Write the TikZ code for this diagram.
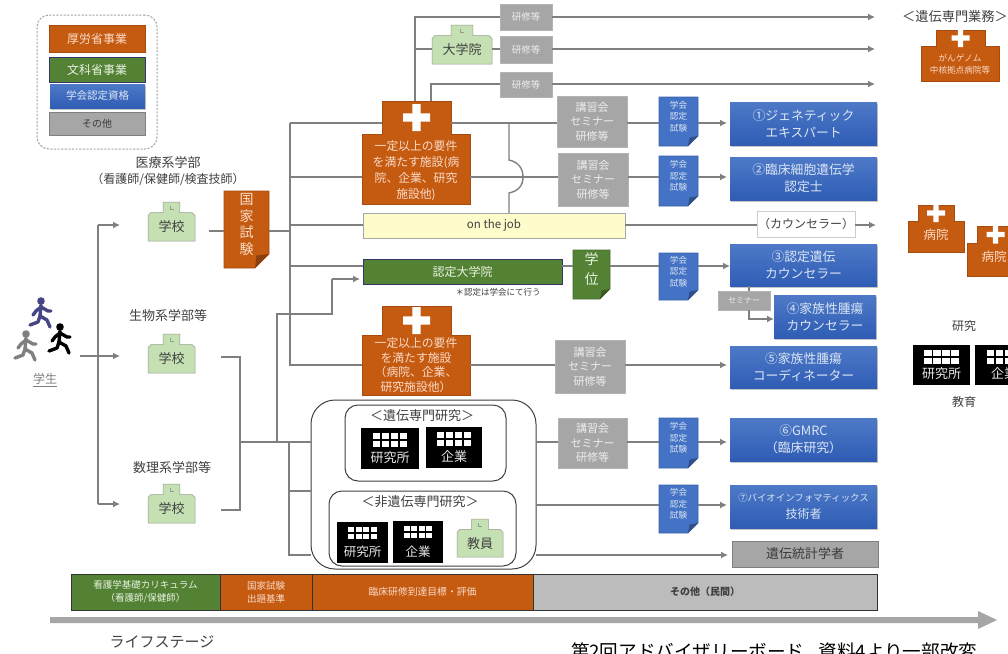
\documentclass[tikz,border=0pt]{standalone}
\usepackage{fontspec}
\setmainfont{Noto Sans CJK JP}
\usetikzlibrary{arrows.meta,shadows,calc}
\definecolor{org}{HTML}{C55A11}
\definecolor{grn}{HTML}{548235}
\definecolor{blu}{HTML}{4472C4}
\definecolor{blud}{HTML}{2F5DB5}
\definecolor{gry}{HTML}{A6A6A6}
\definecolor{lnc}{HTML}{7F7F7F}
\definecolor{palo}{HTML}{FBDCC8}
\definecolor{palb}{HTML}{DCE6F5}
\definecolor{palg}{HTML}{EDEDED}
\definecolor{palv}{HTML}{E8F2E0}
\definecolor{txt}{HTML}{404040}
\definecolor{sch}{HTML}{C5E0B3}
\newcommand\fs[2]{\fontsize{#1}{#2}\selectfont}
\tikzset{
  lnk/.style={draw=lnc,line width=1.4pt},
  arw/.style={draw=lnc,line width=1.4pt,-{Latex[length=7pt,width=7pt]},shorten >=3pt},
  base/.style={inner sep=0pt,outer sep=0pt,align=center},
  lab/.style={base,text=txt},
  orgb/.style={base,fill=org,text=palo,draw=org!85!black,line width=.6pt},
  grnb/.style={base,fill=grn,text=palv,draw=black!60!blue!60!gray,line width=1pt},
  bluel/.style={base,top color=blu!95!white,bottom color=blud,text=palb,drop shadow={opacity=.45,shadow xshift=.6pt,shadow yshift=-1.6pt}},
  gryb/.style={base,fill=gry,text=palg,draw=gry!85!white,line width=.5pt},
  grys/.style={base,fill=gry,text=txt!90!black,draw=gray,line width=.5pt,drop shadow={opacity=.4,shadow xshift=.5pt,shadow yshift=-1.4pt}},
  barb/.style={base,draw=black!80,line width=1pt},
  roundb/.style={base,draw=txt,line width=1pt,fill=white},
}
% name x1 y1 x2 y2 style text
\newcommand\pxbox[7]{%
  \pgfmathsetmacro\pxw{#4-#2}\pgfmathsetmacro\pxh{#5-#3}%
  \pgfmathsetmacro\pxx{(#2+#4)/2}\pgfmathsetmacro\pxy{(#3+#5)/2}%
  \node[#6,minimum width=\pxw pt,minimum height=\pxh pt] (#1) at (\pxx,\pxy) {#7};}
% name x1 y1 x2 y2 text
\newcommand\school[6]{%
  \pgfmathsetmacro\sm{(#2+#4)/2}\pgfmathsetmacro\st{(#4-#2)*.18}\pgfmathsetmacro\sy{#3+(#5-#3)*.27}%
  \filldraw[fill=sch,draw=gray!70!sch,line width=.5pt] (#2,\sy+3) -- (#2+3,\sy) -- (\sm-\st,\sy) -- (\sm-\st,#3) -- (\sm+\st,#3) -- (\sm+\st,\sy) -- (#4-3,\sy) -- (#4,\sy+3) -- (#4,#5) -- (#2,#5) -- cycle;
  \draw[gray!70!sch,line width=.5pt] (\sm-1.5,#3+4) -- (\sm-1.5,#3+7) -- (\sm+2,#3+7);
  \pxbox{#1}{#2}{#3}{#4}{#5}{base}{}%
  \pgfmathsetmacro\sc{(\sy+#5)/2}%
  \node[lab,font=\fs{13}{15}] (#1-t) at (\sm,\sc) {#6};}
% name x1 y1 x2 y2 fold colour text-style text
\newcommand\docsh[9]{%
  \filldraw[fill=#7,draw=#7!85!black,line width=.6pt] (#2,#3) -- (#4,#3) -- (#4,#5-#6) -- (#4-#6,#5) -- (#2,#5) -- cycle;
  \fill[#7!70!black] (#4,#5-#6) -- (#4-#6,#5) -- (#4-#6+1.5,#5-#6+1.5) -- cycle;
  \pxbox{#1}{#2}{#3}{#4}{#5}{base}{}%
  \node[base,#8] (#1-t) at ([yshift=5pt]#1.center) {#9};}
% name x1 y1 x2 y2 ymid tx1 tx2 crossarm
\newcommand\hosp[9]{%
  \filldraw[fill=org,draw=org!85!black,line width=.6pt] (#2,#6) -- (#7,#6) -- (#7,#3) -- (#8,#3) -- (#8,#6) -- (#4,#6) -- (#4,#5) -- (#2,#5) -- cycle;
  \pxbox{#1}{#2}{#6}{#4}{#5}{base}{}%
  \pxbox{#1T}{#7}{#3}{#8}{#6}{base}{}%
  \pgfmathsetmacro\ca{#9}\pgfmathsetmacro\cb{#9*.3}%
  \fill[white,shift={(#1T.center)}] (-\ca,-\cb) rectangle (\ca,\cb) (-\cb,-\ca) rectangle (\cb,\ca);}
% name x1 y1 x2 y2 winwidth fontsize text
\newcommand\labo[8]{%
  \pxbox{#1}{#2}{#3}{#4}{#5}{base,fill=black}{}%
  \pgfmathsetmacro\wm{(#2+#4)/2}\pgfmathsetmacro\wu{#6/4}\pgfmathsetmacro\wt{#6*.42}%
  \foreach \i in {0,1,2,3}{\foreach \j in {0,1}{%
    \fill[white] (\wm-#6/2+\i*\wu+.8,#3+5+\j*\wt/1.9) rectangle ++(\wu-1.6,\wt/2.5);}}
  \node[base,text=black!10,font=\fs{#7}{#7}] (#1-t) at (\wm,#5-11) {#8};}
\newcommand\runner[4]{%
  \begin{scope}[shift={(#1,#2)},line width=3.4pt,line cap=round,line join=round,draw=#3]
    \fill[#3] (0,0) circle (3.8);
    \draw (0,4) -- (-1,15);
    \draw (0,6) -- (7,10) -- (10,10);
    \draw (0,6) -- (-5,10) -- (-8,14);
    \draw (-1,15) -- (6,19) -- (9,26);
    \draw (-1,15) -- (-3,21) -- (-11,24);
  \end{scope}}
\begin{document}
\begin{tikzpicture}[x=1pt,y=-1pt]
\useasboundingbox (0,0) rectangle (1008,653);
\clip (0,0) rectangle (1008,653);
\fill[white] (0,0) rectangle (1008,653);

% legend
\pxbox{leg}{37}{15}{157}{149}{base,draw=gry,dash pattern=on 2.2pt off 1.4pt,line width=1pt,rounded corners=12pt}{}
\pxbox{l1}{49}{25}{145}{52}{orgb,font=\fs{12}{14}}{厚労省事業}
\pxbox{l2}{49}{57}{145}{82}{grnb,font=\fs{12}{14}}{文科省事業}
\pxbox{l3}{50}{84}{145}{108}{bluel,font=\fs{10.5}{12}}{学会認定資格}
\pxbox{l4}{49}{112}{145}{135}{grys,font=\fs{10}{12}}{その他}

% student
\runner{41}{301}{black!45!blue!45!gray}{1}
\runner{60}{327}{black}{1}
\runner{26}{334}{gray}{1}
\node[lab,font=\fs{12}{14},text=gray] (stud) at (45,380) {\underline{学生}};

% schools
\node[lab,font=\fs{13}{16}] (t1) at (168,163) {医療系学部};
\node[lab,font=\fs{12}{14}] (t1b) at (168,179) {（看護師/保健師/検査技師）};
\school{s1}{148}{202}{195}{241}{学校}
\node[lab,font=\fs{13}{16}] (t2) at (168,316) {生物系学部等};
\school{s2}{148}{334}{195}{373}{学校}
\node[lab,font=\fs{13}{16}] (t3) at (172,468) {数理系学部等};
\school{s3}{148}{484}{195}{523}{学校}
\docsh{nat}{224}{191}{269}{268}{14}{org}{text=palo,font=\fs{14}{16.5}}{国\\家\\試\\験}

% top row
\pxbox{k1}{500}{4}{552}{30}{gryb,font=\fs{9.5}{11}}{研修等}
\pxbox{k2}{500}{36}{552}{63}{gryb,font=\fs{9.5}{11}}{研修等}
\pxbox{k3}{500}{72}{552}{97}{gryb,font=\fs{9.5}{11}}{研修等}
\school{uni}{432}{25}{492}{64}{大学院}
\hosp{h1}{362}{101}{470}{204}{134}{382}{451}{13.5}
\node[base,text=palo,font=\fs{11.8}{16}] (h1-t) at (416,171) {一定以上の要件\\を満たす施設(病\\院、企業、研究\\施設他)};
\pxbox{c1}{557}{96}{627}{147}{gryb,font=\fs{11}{14.5}}{講習会\\セミナー\\研修等}
\pxbox{c2}{558}{153}{628}{206}{gryb,font=\fs{11}{14.5}}{講習会\\セミナー\\研修等}
\docsh{d1}{659}{97}{698}{146}{10}{blu}{text=palb,font=\fs{8.6}{11.5}}{学会\\認定\\試験}
\docsh{d2}{659}{156}{698}{206}{10}{blu}{text=palb,font=\fs{8.6}{11.5}}{学会\\認定\\試験}
\pxbox{b1}{730}{102}{877}{145}{bluel,font=\fs{12.8}{17}}{①ジェネティック\\エキスパート}
\pxbox{b2}{730}{157}{877}{200}{bluel,font=\fs{12.8}{17}}{②臨床細胞遺伝学\\認定士}

% on the job row
\pxbox{ojt}{363}{213}{625}{238}{base,fill=yellow!20,draw=gray!70,line width=1pt,text=txt,font=\fs{11.5}{13}}{on the job}
\pxbox{cs}{757}{211}{855}{237}{base,fill=white,draw=gray!40,line width=.8pt,text=txt,font=\fs{12}{14}}{（カウンセラー）}

% certified graduate school row
\pxbox{cg}{363}{259}{562}{284}{grnb,font=\fs{12}{14}}{認定大学院}
\node[lab,font=\fs{8.5}{10}] (cgn) at (498,292) {＊認定は学会にて行う};
\docsh{deg}{573}{250}{610}{299}{10}{grn}{text=palv,font=\fs{14}{20}}{学\\位}
\docsh{d3}{659}{253}{698}{300}{10}{blu}{text=palb,font=\fs{8.6}{11.5}}{学会\\認定\\試験}
\pxbox{b3}{730}{244}{877}{286}{bluel,font=\fs{12.8}{17}}{③認定遺伝\\カウンセラー}
\pxbox{b4}{774}{295}{876}{338}{bluel,font=\fs{12.8}{17}}{④家族性腫瘍\\カウンセラー}

% second hospital row
\hosp{h2}{362}{306}{470}{395}{335}{382}{451}{13.5}
\node[base,text=palo,font=\fs{11.8}{14.7}] (h2-t) at (416,365) {一定以上の要件\\を満たす施設\\（病院、企業、\\研究施設他）};
\pxbox{c5}{555}{340}{625}{393}{gryb,font=\fs{11}{14.5}}{講習会\\セミナー\\研修等}
\pxbox{b5}{730}{346}{877}{388}{bluel,font=\fs{12.8}{17}}{⑤家族性腫瘍\\コーディネーター}

% research containers
\pxbox{big}{311}{400}{536}{569}{roundb,rounded corners=24pt}{}
\pxbox{gen}{345}{405}{506}{481}{roundb,rounded corners=13pt}{}
\node[lab,font=\fs{13}{15}] (gent) at (422,416) {＜遺伝専門研究＞};
\labo{r1}{361}{428}{419}{469}{35}{13}{研究所}
\labo{r2}{426}{427}{482}{468}{35}{13}{企業}
\pxbox{non}{329}{491}{516}{566}{roundb,rounded corners=13pt}{}
\node[lab,font=\fs{13}{15}] (nont) at (420,502) {＜非遺伝専門研究＞};
\labo{r3}{337}{522}{388}{563}{30}{12.5}{研究所}
\labo{r4}{393}{521}{443}{563}{30}{12.5}{企業}
\school{tea}{457}{519}{503}{557}{教員}
\pxbox{c6}{558}{418}{627}{468}{gryb,font=\fs{11}{14.5}}{講習会\\セミナー\\研修等}
\docsh{d6}{659}{418}{698}{468}{10}{blu}{text=palb,font=\fs{8.6}{11.5}}{学会\\認定\\試験}
\docsh{d7}{659}{485}{698}{533}{10}{blu}{text=palb,font=\fs{8.6}{11.5}}{学会\\認定\\試験}
\pxbox{b6}{730}{418}{877}{461}{bluel,font=\fs{12.8}{17}}{⑥GMRC\\（臨床研究）}
\pxbox{b7}{730}{485}{877}{528}{bluel,font=\fs{9.4}{17}}{⑦バイオインフォマティックス\\{\fs{12}{17}技術者}}
\pxbox{st}{732}{541}{878}{567}{grys,font=\fs{13}{15}}{遺伝統計学者}
\pxbox{sem}{718}{291}{770}{310}{gryb,font=\fs{8}{10},drop shadow={opacity=.3,shadow xshift=.4pt,shadow yshift=-1pt}}{セミナー}

% right column
\node[lab,font=\fs{13.2}{15}] (rt) at (955,16) {＜遺伝専門業務＞};
\hosp{rh}{921}{30}{999}{81}{46}{936}{985}{9}
\node[base,text=palo,font=\fs{8.6}{12.5}] (rh-t) at (960,64) {がんゲノム\\中核拠点病院等};
\hosp{rh1}{908}{205}{964}{252}{221}{918}{954}{9}
\node[base,text=palo,font=\fs{12.5}{14}] (rh1-t) at (936,235) {病院};
\hosp{rh2}{967}{226}{1025}{276}{243}{977}{1014}{9}
\node[base,text=palo,font=\fs{12.5}{14}] (rh2-t) at (994,257) {病院};
\node[lab,font=\fs{12}{14}] (rr) at (964,326) {研究};
\labo{r5}{913}{345}{970}{385}{36}{13}{研究所}
\labo{r6}{975}{345}{1033}{385}{36}{13}{企業}
\node[lab,font=\fs{12}{14}] (re) at (964,402) {教育};

% bottom bar
\pxbox{p1}{71}{574}{220}{610}{barb,fill=grn,text=palv,font=\fs{9.5}{13}}{看護学基礎カリキュラム\\（看護師/保健師）}
\pxbox{p2}{220}{574}{312}{610}{barb,fill=org,text=palo,font=\fs{9.5}{13}}{国家試験\\出題基準}
\pxbox{p3}{312}{574}{533}{610}{barb,fill=org,text=palo,font=\fs{9.8}{13}}{臨床研修到達目標・評価}
\pxbox{p4}{533}{574}{877}{610}{barb,fill=gry!75,text=txt,font=\fs{10}{13}\bfseries}{その他（民間）}
\fill[gry] (50,617) -- (978,617) -- (978,611) -- (997,620) -- (978,629) -- (978,623) -- (50,623) -- cycle;
\node[lab,font=\fs{15}{17}] (ls) at (162,642) {ライフステージ};
\node[base,anchor=west,text=black,font=\fs{18.6}{22}] (src) at (571,651) {第2回アドバイザリーボード\hspace{14pt}資料4より一部改変};

% junction coordinates
\coordinate (stu) at (80,356);
\coordinate (a1) at (98,225);
\coordinate (a2) at (98,356);
\coordinate (a3) at (98,504);
\coordinate (tr) at (290,123);
\coordinate (tr2) at (290,177);
\coordinate (tr3) at (290,225);
\coordinate (tr4) at (290,231);
\coordinate (tr5) at (290,266);
\coordinate (tr6) at (290,365);
\coordinate (m1) at (332,279);
\coordinate (m2) at (277,314);
\coordinate (m3) at (277,442);
\coordinate (v1) at (240,357);
\coordinate (v2) at (240,510);
\coordinate (v0) at (240,442);
\coordinate (u1) at (289,442);
\coordinate (u2) at (289,491);
\coordinate (u3) at (289,555);
\coordinate (h17) at (415,17);
\coordinate (h49) at (415,49);
\coordinate (h84) at (431,84);
\coordinate (r27) at (749,319);
\coordinate (bj) at (509,123);
\coordinate (bjt) at (509,160);
\coordinate (bjb) at (509,193);
\coordinate (bjm) at (523,177);

% student to schools
\draw[lnk] (a1) -- (a3);
\draw[arw,shorten >=28pt] (a1) -- (a1 -| s1.west);
\draw[arw,shorten >=28pt] (stu) -- (stu -| s2.west);
\draw[arw,shorten >=28pt] (a3) -- (a3 -| s3.west);
% school 1 to exam to trunk
\draw[lnk,shorten <=14pt] (tr4 -| s1.east) -- (tr4 -| nat.west);
\draw[lnk] (tr4 -| nat.east) -- (tr4);
\draw[lnk] (tr) -- (tr6) -- (tr6 -| h2.west);
% schools 2,3
\draw[lnk,shorten <=26pt,shorten >=26pt] (v1 -| s2.east) -- (v1) -- (v2) -- (v2 -| s3.east);
\draw[lnk] (v0) -- (v0 -| big.west);
\draw[lnk] (m3) -- (m2) -- (m2 -| m1) -- (m1);
\draw[arw] (m1) -- (m1 -| cg.west);
\draw[lnk] (u1) -- (u3) -- (u3 -| big.west);
\draw[lnk] (u2) -- (u2 -| big.west);
% top hospital
\draw[lnk] (h17 |- h1T.north) -- (h17) -- (h17 -| k1.west);
\draw[lnk] (h49) -- (h49 -| uni.west);
\draw[lnk] (h49 -| uni.east) -- (h49 -| k2.west);
\draw[lnk] (h84 |- h1T.north) -- (h84) -- (h84 -| k3.west);
\draw[arw,shorten >=0pt] (h17 -| k1.east) -- (875,17);
\draw[arw,shorten >=0pt] (h49 -| k2.east) -- (875,49);
\draw[arw,shorten >=0pt] (h84 -| k3.east) -- (875,84);
% row 1
\draw[lnk] (tr) -- (tr -| h1T.west);
\draw[lnk] (tr -| h1T.east) -- (tr -| c1.west);
\draw[lnk] (tr -| c1.east) -- (tr -| d1.west);
\draw[arw] (tr -| d1.east) -- (tr -| b1.west);
% row 2
\draw[lnk] (tr2) -- (tr2 -| h1.west);
\draw[lnk] (tr2 -| h1.east) -- (tr2 -| c2.west);
\draw[lnk] (tr2 -| c2.east) -- (tr2 -| d2.west);
\draw[arw] (tr2 -| d2.east) -- (tr2 -| b2.west);
% bump
\draw[lnk] (bj) -- (bjt) .. controls (518,162) and (523,168) .. (bjm) .. controls (523,186) and (518,191) .. (bjb) -- (bjb |- ojt.north);
% on the job
\draw[lnk] (tr3) -- (tr3 -| ojt.west);
\draw[lnk] (tr3 -| ojt.east) -- (tr3 -| cs.west);
\draw[arw,shorten >=0pt] (tr3 -| cs.east) -- (876,225);
% certified school
\draw[lnk] (tr5) -- (tr5 -| cg.west);
\draw[lnk] (tr5 -| cg.east) -- (tr5 -| deg.west);
\draw[lnk] (tr5 -| deg.east) -- (tr5 -| d3.west);
\draw[arw,shorten >=0pt] (tr5 -| d3.east) -- (tr5 -| b3.west);
% counsellor link
\draw[lnk] (r27 |- b3.south) -- (r27 |- sem.north);
\draw[arw,shorten >=0pt] (r27 |- sem.south) -- (r27) -- (r27 -| b4.west);
% row 5
\draw[lnk] (tr6 -| h2.east) -- (tr6 -| c5.west);
\draw[arw] (tr6 -| c5.east) -- (tr6 -| b5.west);
% research
\draw[lnk] (v0 -| big.east) -- (v0 -| c6.west);
\draw[lnk] (v0 -| c6.east) -- (v0 -| d6.west);
\draw[arw] (v0 -| d6.east) -- (v0 -| b6.west);
\coordinate (r505) at (536,505);
\draw[lnk] (r505) -- (r505 -| d7.west);
\draw[arw] (r505 -| d7.east) -- (r505 -| b7.west);
\draw[arw,shorten >=4pt] (u3 -| big.east) -- (u3 -| st.west);
\end{tikzpicture}
\end{document}
